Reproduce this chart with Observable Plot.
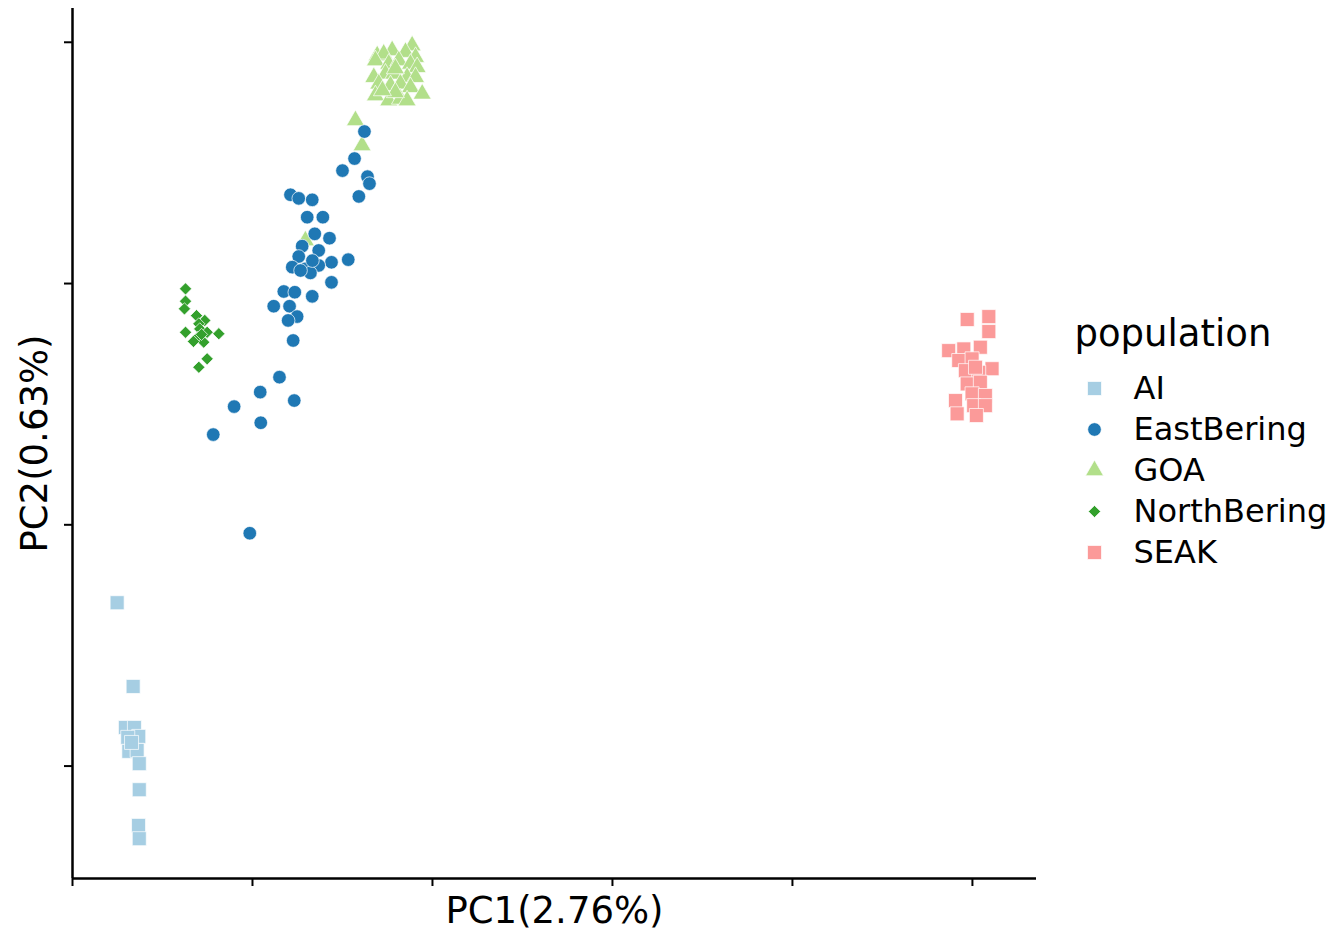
<!DOCTYPE html>
<html>
<head>
<meta charset="utf-8">
<script src="https://cdn.jsdelivr.net/npm/d3@7"></script>
<script src="https://cdn.jsdelivr.net/npm/@observablehq/plot@0.6"></script>
<style>
  html, body { margin: 0; padding: 0; background: #fff; }
  #chart { position: relative; width: 1332px; height: 931px; font-family: "DejaVu Sans", sans-serif; }
  #legend { position: absolute; left: 1060px; top: 310px; }
</style>
</head>
<body>
<div id="chart"><div id="legend"></div></div>
<script>
// Populations, colours (Paired palette) and marker shapes
const populations = ["AI", "EastBering", "GOA", "NorthBering", "SEAK"];
const popColors = ["#a6cee3", "#1f78b4", "#b2df8a", "#33a02c", "#fb9a99"];
const popSymbols = ["square", "circle", "triangle", "diamond2", "square"];

// Axis titles and tick positions (ticks are unlabelled)
const xTitle = "PC1(2.76%)";
const yTitle = "PC2(0.63%)";
const xTicks = [-0.2, -0.1, 0, 0.1, 0.2, 0.3];
const yTicks = [-0.2, -0.1, 0, 0.1];
const xDomain = [-0.2, 0.3356];
const yDomain = [-0.2466, 0.1140];

// PCA scores per individual
const aiPC1 = [-0.1752, -0.1663, -0.1706, -0.1656, -0.1632, -0.1693, -0.1687, -0.1641, -0.1629, -0.1629, -0.1633, -0.1629, -0.1672];
const aiPC2 = [-0.1323, -0.1670, -0.1840, -0.1840, -0.1877, -0.1881, -0.1939, -0.1935, -0.1990, -0.2098, -0.2246, -0.2301, -0.1902];

const eastBeringPC1 = [-0.0789, -0.0743, -0.0668, -0.0696, -0.0609, -0.0654, -0.0572, -0.0724, -0.0632, -0.0743,
  -0.0561, -0.0468, -0.0779, -0.0706, -0.0632, -0.0678, -0.0733, -0.0667, -0.0561, -0.0826,
  -0.0765, -0.0668, -0.0882, -0.0794, -0.0752, -0.0802, -0.0774, -0.0378, -0.0433, -0.0500,
  -0.0361, -0.0350, -0.0409, -0.0850, -0.0957, -0.1102, -0.0768, -0.0954, -0.1218, -0.1015];
const eastBeringPC2 = [0.0368, 0.0353, 0.0347, 0.0275, 0.0275, 0.0206, 0.0188, 0.0155, 0.0137, 0.0112,
  0.0088, 0.0099, 0.0068, 0.0061, 0.0075, 0.0044, 0.0054, 0.0095, 0.0005, -0.0033,
  -0.0036, -0.0053, -0.0094, -0.0094, -0.0137, -0.0153, -0.0236, 0.0630, 0.0518, 0.0468,
  0.0443, 0.0414, 0.0361, -0.0388, -0.0450, -0.0510, -0.0485, -0.0577, -0.0626, -0.1035];

const goaPC1 = [-0.0113, -0.0224, -0.0307, -0.0271, -0.0150, -0.0094, -0.0317, -0.0243, -0.0187, -0.0122,
  -0.0085, -0.0326, -0.0261, -0.0215, -0.0141, -0.0094, -0.0298, -0.0233, -0.0178, -0.0122,
  -0.0057, -0.0317, -0.0243, -0.0178, -0.0141, -0.0428, -0.0391, -0.0706, -0.0206, -0.0278, -0.0206];
const goaPC2 = [0.0986, 0.0966, 0.0945, 0.0952, 0.0959, 0.0938, 0.0924, 0.0910, 0.0924, 0.0910,
  0.0896, 0.0855, 0.0869, 0.0869, 0.0855, 0.0855, 0.0828, 0.0821, 0.0828, 0.0813,
  0.0786, 0.0779, 0.0758, 0.0765, 0.0758, 0.0676, 0.0572, 0.0178, 0.0792, 0.0800, 0.0891];

const northBeringPC1 = [-0.1372, -0.1372, -0.1378, -0.1311, -0.1265, -0.1372, -0.1298, -0.1293, -0.1252, -0.1187,
  -0.1304, -0.1271, -0.1252, -0.1298, -0.1328, -0.1283];
const northBeringPC2 = [-0.0022, -0.0073, -0.0105, -0.0133, -0.0153, -0.0202, -0.0167, -0.0188, -0.0202, -0.0208,
  -0.0223, -0.0243, -0.0312, -0.0347, -0.0240, -0.0211];

const seakPC1 = [0.2971, 0.3091, 0.3091, 0.2868, 0.2952, 0.3044, 0.2924, 0.2998, 0.3109, 0.2961,
  0.3035, 0.2971, 0.3044, 0.2998, 0.3072, 0.2906, 0.3007, 0.3072, 0.2915, 0.3022, 0.3017];
const seakPC2 = [-0.0149, -0.0137, -0.0199, -0.0278, -0.0271, -0.0264, -0.0319, -0.0312, -0.0353, -0.0361,
  -0.0368, -0.0416, -0.0409, -0.0457, -0.0464, -0.0485, -0.0506, -0.0506, -0.0540, -0.0547, -0.0347];

const rows = (population, pc1, pc2) => pc1.map((v, i) => ({population, PC1: v, PC2: pc2[i]}));
const ai = rows("AI", aiPC1, aiPC2);
const eastBering = rows("EastBering", eastBeringPC1, eastBeringPC2);
const goa = rows("GOA", goaPC1, goaPC2);
const northBering = rows("NorthBering", northBeringPC1, northBeringPC2);
const seak = rows("SEAK", seakPC1, seakPC2);

// marker radius per population (Plot symbol area = pi r^2)
const markerR = {AI: 7.9, EastBering: 6.8, GOA: 6.7, NorthBering: 5.5, SEAK: 7.9};

const colorScale = {domain: populations, range: popColors};
const symbolScale = {domain: populations, range: popSymbols};

const points = (data, pop) => Plot.dot(data, {
  x: "PC1", y: "PC2", fill: "population", symbol: "population",
  r: markerR[pop], stroke: "white", strokeWidth: 0.7
});

const scatter = Plot.plot({
  width: 1332,
  height: 931,
  marginLeft: 72,
  marginRight: 296,
  marginTop: 8,
  marginBottom: 53,
  style: {fontFamily: "DejaVu Sans", background: "transparent"},
  x: {domain: xDomain},
  y: {domain: yDomain},
  color: colorScale,
  symbol: symbolScale,
  marks: [
    points(goa, "GOA"),
    points(ai, "AI"),
    points(northBering, "NorthBering"),
    points(seak, "SEAK"),
    points(eastBering, "EastBering"),
    Plot.axisX({ticks: xTicks, tickFormat: () => "", tickSize: 8, strokeWidth: 2, label: null}),
    Plot.axisY({ticks: yTicks, tickFormat: () => "", tickSize: 8, strokeWidth: 2, label: null}),
    Plot.ruleY([yDomain[0]], {stroke: "black", strokeWidth: 2.5}),
    Plot.ruleX([xDomain[0]], {stroke: "black", strokeWidth: 2.5}),
    Plot.text([xTitle], {frameAnchor: "bottom", dy: 33, fontSize: 37, textAnchor: "middle", lineAnchor: "middle", fill: "black"}),
    Plot.text([yTitle], {frameAnchor: "left", dx: -37, rotate: -90, fontSize: 37, textAnchor: "middle", lineAnchor: "middle", fill: "black"})
  ]
});
document.getElementById("chart").prepend(scatter);

// legend: title, one marker + name per population
const legend = Plot.plot({
  width: 272,
  height: 270,
  marginLeft: 0,
  marginRight: 0,
  marginTop: 78,
  marginBottom: 28,
  style: {fontFamily: "DejaVu Sans", background: "transparent"},
  y: {type: "point", domain: populations, padding: 0, axis: null},
  color: colorScale,
  symbol: symbolScale,
  marks: [
    Plot.text(["population"], {frameAnchor: "top-left", dx: 14, dy: -54, fontSize: 37, textAnchor: "start", lineAnchor: "middle", fill: "black"}),
    ...populations.map(p => Plot.dot([p], {
      y: d => d, frameAnchor: "left", dx: 34, fill: d => d, symbol: d => d, r: markerR[p], stroke: "white", strokeWidth: 0.7
    })),
    Plot.text(populations, {y: d => d, frameAnchor: "left", dx: 73, textAnchor: "start", lineAnchor: "middle", fontSize: 32, fill: "black"})
  ]
});
document.getElementById("legend").appendChild(legend);
document.getElementById("chart").firstChild.style.position = "absolute";
</script>
</body>
</html>
